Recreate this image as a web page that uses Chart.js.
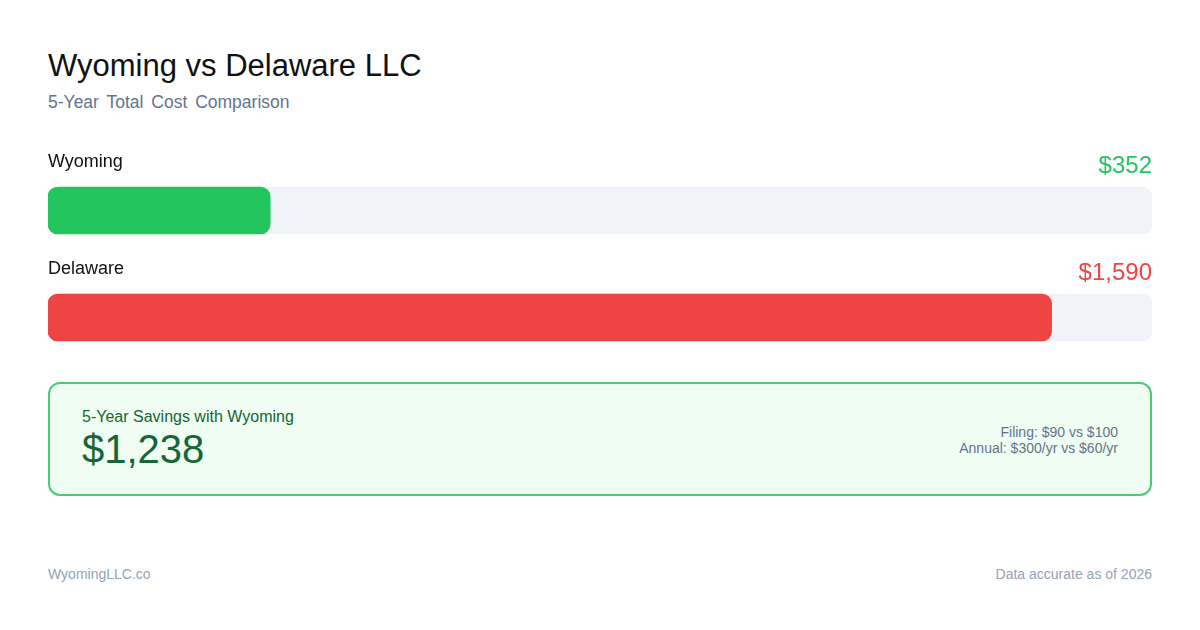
<!DOCTYPE html>
<html>
<head>
<meta charset="utf-8">
<script src="https://cdn.jsdelivr.net/npm/chart.js@4"></script>
<style>
  html, body { margin: 0; padding: 0; background: #fff; }
  body { width: 1200px; height: 630px; position: relative; overflow: hidden;
         font-family: "Liberation Sans", Arial, Helvetica, sans-serif; }
  .abs { position: absolute; white-space: nowrap; }
  #title { left: 48px; top: 46px; font-size: 31px; color: #111; line-height: 40px; }
  #subtitle { left: 48px; top: 91px; font-size: 17.5px; color: #64748b; line-height: 22px; word-spacing: 3px; }
  #chartWrap { left: 48px; top: 140px; width: 1104px; height: 231px; }
  #box { left: 48px; top: 382px; width: 1100px; height: 110px; border: 2px solid #4ccb77;
         background: #effdf3; border-radius: 12px; }
  #saveLabel { left: 32px; top: 24px; font-size: 16px; color: #166534; line-height: 18px; }
  #saveValue { left: 32px; top: 42px; font-size: 40px; color: #166534; line-height: 46px; }
  #details { right: 32px; top: 40px; font-size: 14px; color: #64748b; line-height: 16px; text-align: right; }
  .foot { top: 566px; font-size: 14px; color: #94a3b8; line-height: 16px; }
</style>
</head>
<body>
<div id="title" class="abs">Wyoming vs Delaware LLC</div>
<div id="subtitle" class="abs">5-Year Total Cost Comparison</div>
<div id="chartWrap" class="abs"><canvas id="barChart"></canvas></div>
<div id="box" class="abs">
  <div id="saveLabel" class="abs">5-Year Savings with Wyoming</div>
  <div id="saveValue" class="abs"></div>
  <div id="details" class="abs">Filing: $90 vs $100<br>Annual: $300/yr vs $60/yr</div>
</div>
<div class="abs foot" style="left:48px">WyomingLLC.co</div>
<div class="abs foot" style="right:48px">Data accurate as of 2026</div>

<script>
// Datos
const states = ['Wyoming', 'Delaware'];
const costs = [352, 1590];
const barColors = ['#22c55e', '#ef4444'];

const scaleMax = Math.max(...costs) * 1.1;
const fmt = v => '$' + v.toLocaleString('en-US');

document.getElementById('saveValue').textContent = fmt(costs[1] - costs[0]);

// Etiquetas arriba de cada barra
const labelPlugin = {
    id: 'barLabels',
    afterDatasetsDraw(chart) {
        const ctx = chart.ctx;
        const meta = chart.getDatasetMeta(0);
        const area = chart.chartArea;
        ctx.save();
        meta.data.forEach((bar, i) => {
            const top = bar.y - bar.height / 2;
            ctx.textBaseline = 'middle';
            ctx.font = '18px "Liberation Sans", Arial, sans-serif';
            ctx.fillStyle = '#111';
            ctx.textAlign = 'left';
            ctx.fillText(states[i], area.left, top - 25);
            ctx.font = '24px "Liberation Sans", Arial, sans-serif';
            ctx.fillStyle = barColors[i];
            ctx.textAlign = 'right';
            ctx.fillText(fmt(costs[i]), area.right, top - 21);
        });
        ctx.restore();
    }
};

var ctxBar = document.getElementById('barChart').getContext('2d');
new Chart(ctxBar, {
    type: 'bar',
    data: {
        labels: states,
        datasets: [{
            data: costs,
            backgroundColor: barColors,
            barThickness: 47,
            borderRadius: 10,
            borderSkipped: false,
            grouped: false,
            order: 0
        }, {
            data: states.map(() => scaleMax),
            backgroundColor: '#f0f4f9',
            barThickness: 47,
            borderRadius: 10,
            borderSkipped: false,
            grouped: false,
            order: 1
        }]
    },
    options: {
        indexAxis: 'y',
        responsive: true,
        maintainAspectRatio: false,
        animation: false,
        layout: { padding: { top: 17, left: 0, right: 0, bottom: 0 } },
        scales: {
            x: { display: false, min: 0, max: scaleMax },
            y: { display: false }
        },
        plugins: {
            legend: { display: false },
            tooltip: { enabled: false }
        }
    },
    plugins: [labelPlugin]
});
</script>
</body>
</html>
